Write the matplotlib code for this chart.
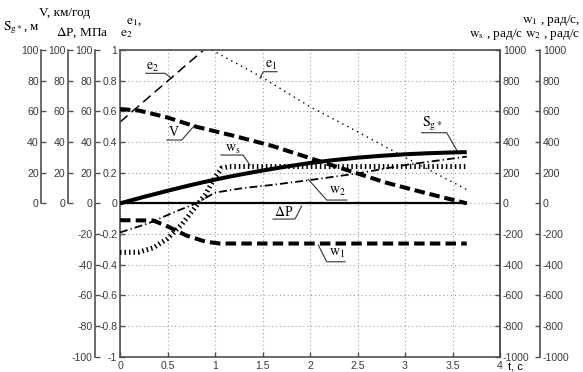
import numpy as np
import matplotlib
matplotlib.use('Agg')
import matplotlib.pyplot as plt
from matplotlib.ticker import FuncFormatter

plt.rcParams['axes.unicode_minus'] = False
plt.rcParams['mathtext.fontset'] = 'stix'
plt.rcParams['font.family'] = ['Liberation Sans', 'DejaVu Sans']

# ---------------- data ----------------
t_S = [0, 0.25, 0.5, 0.75, 1.0, 1.25, 1.5, 1.75, 2.0, 2.25, 2.5, 2.75, 3.0, 3.25, 3.5, 3.65]
S_g = [0, 4.2, 8.2, 12.0, 15.5, 18.6, 21.4, 24.0, 26.3, 28.2, 29.8, 31.0, 32.0, 32.7, 33.2, 33.4]

t_V = [0, 0.2, 0.5, 0.8, 1.2, 1.6, 2.0, 2.4, 2.8, 3.2, 3.65]
V = [61.5, 60.5, 56.0, 50.0, 44.0, 37.5, 29.5, 21.5, 13.5, 7.0, 0.0]

t_P = [0, 3.65]
dP = [0, 0]

t_e1 = [0.965, 1.5, 2.0, 2.4, 3.0, 3.65]
e1 = [1.0, 0.82, 0.63, 0.50, 0.30, 0.09]

t_e2 = [0, 0.88]
e2 = [0.53, 1.0]

t_w1 = [0, 0.35, 0.5, 0.7, 0.9, 1.05, 3.65]
w1 = [-110, -112, -150, -210, -250, -262, -262]

t_w2 = [0, 0.3, 0.6, 0.8, 1.0, 1.3, 1.6, 2.0, 2.5, 3.0, 3.65]
w2 = [-190, -130, -50, 0, 70, 100, 120, 152, 195, 250, 305]

t_ws = [0, 0.2, 0.35, 0.5, 0.65, 0.8, 0.9, 1.0, 1.07, 1.15, 3.65]
ws = [-320, -318, -290, -230, -137, -20, 60, 170, 230, 240, 240]

x_ticks = [0, 0.5, 1, 1.5, 2, 2.5, 3, 3.5, 4]
main_ticks = [-1, -0.8, -0.6, -0.4, -0.2, 0, 0.2, 0.4, 0.6, 0.8, 1]
pos_ticks = [0, 20, 40, 60, 80, 100]
p_ticks = [-100, -80, -60, -40, -20, 0, 20, 40, 60, 80, 100]
w_ticks = [-1000, -800, -600, -400, -200, 0, 200, 400, 600, 800, 1000]

# ---------------- figure ----------------
W, H = 583, 372
fig = plt.figure(figsize=(W / 100, H / 100), dpi=100)
L, R, T, B = 120, 500, 50, 356.7
ax = fig.add_axes([L / W, 1 - B / H, (R - L) / W, (B - T) / H])

SP_COL = '#505050'
TK_COL = '#3a3a3a'
TFS = 7.6

def fmt(v, pos=None):
    v = round(v, 3)
    if v == 0:
        return '0'
    return f'{v:g}'

ax.set_xlim(0, 4)
ax.set_ylim(-1, 1)
ax.set_xticks(x_ticks)
ax.set_yticks(main_ticks)
ax.xaxis.set_major_formatter(FuncFormatter(fmt))
ax.yaxis.set_major_formatter(FuncFormatter(fmt))
ax.grid(True, ls=(0, (1, 2.5)), color='#9a9a9a', lw=0.8)
ax.tick_params(direction='in', length=3.5, width=1, colors=SP_COL, labelcolor=TK_COL,
               labelsize=TFS, pad=2, right=False, top=False)
ax.tick_params(axis='x', pad=3)
for s in ax.spines.values():
    s.set_color(SP_COL)
    s.set_linewidth(1.2)


def make_twin(lim, pos, side, bounds, ticks):
    a = ax.twinx()
    a.set_ylim(lim)
    a.patch.set_visible(False)
    for s in a.spines.values():
        s.set_visible(False)
    sp = a.spines[side]
    sp.set_visible(True)
    sp.set_position(('axes', pos))
    sp.set_bounds(*bounds)
    sp.set_color(SP_COL)
    sp.set_linewidth(1.2)
    a.yaxis.set_ticks_position(side)
    a.set_yticks(ticks)
    a.yaxis.set_major_formatter(FuncFormatter(fmt))
    a.tick_params(direction='in', length=3.5, width=1, colors=SP_COL, labelcolor=TK_COL,
                  labelsize=TFS, pad=2)
    return a

axS = make_twin((-100, 100), (41.5 - L) / (R - L), 'left', (0, 100), pos_ticks)
axV = make_twin((-100, 100), (68 - L) / (R - L), 'left', (0, 100), pos_ticks)
axP = make_twin((-100, 100), (95 - L) / (R - L), 'left', (-100, 100), p_ticks)
axWs = make_twin((-1000, 1000), 1.0, 'right', (-1000, 1000), w_ticks)
axW12 = make_twin((-1000, 1000), (540 - L) / (R - L), 'right', (-1000, 1000), w_ticks)

# ---------------- curves ----------------
ax.plot(t_e2, e2, color='k', lw=1.1, ls=(0, (6.5, 3.5)))
ax.plot(t_e1, e1, color='k', lw=1.0, ls=(0, (1, 3)))
axV.plot(t_V, V, color='k', lw=2.9, ls=(0, (2.6, 1.2)), dash_capstyle='butt')
axS.plot(t_S, S_g, color='k', lw=2.9, solid_capstyle='butt')
axP.plot(t_P, dP, color='k', lw=1.6, solid_capstyle='butt')
axWs.plot(t_ws, ws, color='k', lw=3.6, ls=(0, (0.3, 0.6)), dash_capstyle='butt')
axW12.plot(t_w2, w2, color='k', lw=1.3, ls=(0, (4.4, 1.7, 0.7, 1.7)))
axW12.plot(t_w1, w1, color='k', lw=2.9, ls=(0, (2.6, 1.3)), dash_capstyle='butt')

# ---------------- leader labels ----------------
def px2d(x, y):
    return (x - L) / 95.0, (203.3 - y) / 153.3

def leader(text, tx, ty, line_pts, fs=10):
    xs, ys = zip(*[px2d(*p) for p in line_pts])
    ax.plot(xs, ys, color='#333333', lw=0.8, clip_on=False, zorder=5)
    x, y = px2d(tx, ty)
    ax.text(x, y, text, ha='center', va='center', fontsize=fs,
            family='Liberation Serif', zorder=6)

leader(r'$\mathrm{e_2}$', 153, 67, [(145.7, 73.3), (165, 73.3), (171.7, 78.3)])
leader('V', 174, 132, [(166.7, 140), (181.7, 140), (195, 125)])
leader(r'$\mathrm{e_1}$', 271, 65, [(277, 71.7), (263.3, 71.7), (260, 78.3)])
leader(r'$\mathrm{w_s}$', 233, 149, [(221, 155), (243, 155), (250, 165)])
leader(r'$\mathrm{w_2}$', 337, 191, [(346.7, 200), (326.7, 200), (308.3, 179.3)])
leader(r'$\Delta$P', 284, 212, [(273, 219), (295, 219), (301.7, 206)])
leader(r'$\mathrm{w_1}$', 337, 253, [(345, 261.7), (326.7, 261.7), (318.3, 245)])
leader(r'$\mathrm{S_{g*}}$', 432, 124, [(421.7, 132.7), (446.7, 132.7), (456.7, 150)])

# ---------------- axis titles ----------------
def ftext(x, y, s, ha='center', fs=9.5, family='Liberation Serif'):
    fig.text(x / W, 1 - y / H, s, ha=ha, va='center', fontsize=fs, family=family)

ftext(65, 13, 'V, км/год')
ftext(21, 28, r'$\mathrm{S_{g*}}$, м')
ftext(82, 33, r'$\Delta$P, МПа')
ftext(134, 22, r'$\mathrm{e_1}$,')
ftext(126, 34, r'$\mathrm{e_2}$')
ftext(580, 20, r'$\mathrm{w_1}$ , рад/с,', ha='right')
ftext(580, 34, r'$\mathrm{w_s}$ , рад/с $\mathrm{w_2}$ , рад/с', ha='right')
ftext(508, 367.5, 't, c', ha='left', fs=8, family='Liberation Sans')

fig.savefig('out.png', dpi=100)
